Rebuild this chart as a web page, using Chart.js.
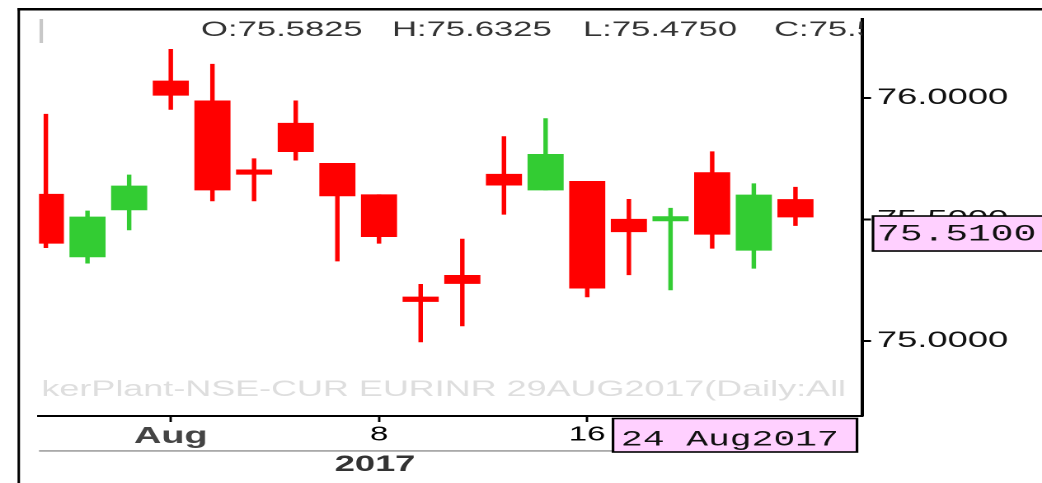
<!DOCTYPE html>
<html>
<head>
<meta charset="utf-8">
<script src="https://cdn.jsdelivr.net/npm/chart.js@4.4.1/dist/chart.umd.min.js"></script>
<style>
  html, body { margin: 0; padding: 0; background: #fff; overflow: hidden; }
  #wrap { width: 632px; height: 483px; transform-origin: 0 0; }
</style>
</head>
<body>
<div id="wrap"><canvas id="chart" width="632" height="483"></canvas></div>
<script>
// EURINR daily candles, 27 Jul - 23 Aug 2017
var dates  = ['27 Jul', '28 Jul', '31 Jul', '1 Aug', '2 Aug', '3 Aug', '4 Aug', '7 Aug', '8 Aug', '9 Aug',
              '10 Aug', '11 Aug', '14 Aug', '16 Aug', '17 Aug', '18 Aug', '21 Aug', '22 Aug', '23 Aug'];
var opens  = [75.604, 75.346, 75.539, 76.070, 75.988, 75.704, 75.896, 75.731, 75.602, 75.181,
              75.270, 75.686, 75.621, 75.657, 75.501, 75.494, 75.693, 75.373, 75.5825];
var highs  = [75.933, 75.535, 75.683, 76.200, 76.139, 75.750, 75.988, 75.731, 75.602, 75.233,
              75.419, 75.841, 75.915, 75.657, 75.583, 75.546, 75.779, 75.647, 75.6325];
var lows   = [75.384, 75.320, 75.457, 75.953, 75.576, 75.576, 75.744, 75.329, 75.402, 74.996,
              75.062, 75.521, 75.621, 75.181, 75.272, 75.210, 75.381, 75.299, 75.4750];
var closes = [75.402, 75.510, 75.638, 76.011, 75.621, 75.686, 75.779, 75.597, 75.429, 75.162,
              75.236, 75.641, 75.768, 75.217, 75.449, 75.512, 75.439, 75.601, 75.5100];

// axis ticks
var xTickIdx    = [3, 8, 13];
var xTickLabels = ['Aug', '8', '16'];
var yearLabel   = '2017';
var yTickVals   = [75.0, 75.5, 76.0];
var yTickLabels = ['75.0000', '75.5000', '76.0000'];

var watermark  = 'kerPlant-NSE-CUR EURINR 29AUG2017(Daily:All';
var cursorDate = '24 Aug2017';

// the picture is stretched sideways, so draw narrow and scale the canvas
var S = 1042 / 632;
document.getElementById('wrap').style.transform = 'scaleX(' + S + ')';

var UP = '#33cc33', DOWN = '#ff0000';
var candleColors = closes.map(function (c, i) { return c >= opens[i] ? UP : DOWN; });

var bodies = [], wicks = [];
for (var i = 0; i < dates.length; i++) {
    bodies.push({x: i, y: [opens[i], closes[i]]});
    wicks.push({x: i, y: [lows[i], highs[i]]});
}

var SANS = '"Liberation Sans", Arial, sans-serif';
var MONO = '"Liberation Mono", "DejaVu Sans Mono", monospace';

const decor = {
    id: 'decor',
    beforeDraw: (chart) => {
        const ctx = chart.ctx;
        ctx.save();
        ctx.fillStyle = '#fff';
        ctx.fillRect(0, 0, chart.width, chart.height);
        ctx.fillStyle = '#000';
        ctx.fillRect(17.5 / S, 8, chart.width, 2.5);       // top frame
        ctx.fillRect(17.5 / S, 8, 2.5 / S, chart.height);  // left frame
        ctx.fillStyle = '#aaa';                            // rule under the date row
        ctx.fillRect(chart.chartArea.left, 450, 612 / S - chart.chartArea.left, 1.8);
        ctx.restore();
    },
    beforeDatasetsDraw: (chart) => {
        const ctx = chart.ctx, a = chart.chartArea;
        ctx.save();
        ctx.beginPath();
        ctx.rect(a.left, a.top, a.right - a.left, a.bottom - a.top);
        ctx.clip();
        // faint watermark
        ctx.font = '22px ' + SANS;
        ctx.fillStyle = '#dedede';
        ctx.textBaseline = 'alphabetic';
        var w = ctx.measureText(watermark).width;
        ctx.translate(a.left + 1.5, 396);
        ctx.scale((846 / S - a.left - 1.5) / w, 1);
        ctx.fillText(watermark, 0, 0);
        ctx.restore();
    },
    afterDraw: (chart) => {
        const ctx = chart.ctx, a = chart.chartArea;
        const xs = chart.scales.x, ys = chart.scales.y;
        var n = dates.length - 1;
        ctx.save();

        // small grey mark top-left
        ctx.fillStyle = '#c8c8c8';
        ctx.fillRect(a.left + 0.3, 19, 3.5 / S, 24);

        // OHLC readout of last bar
        ctx.save();
        ctx.beginPath();
        ctx.rect(a.left, 0, a.right - a.left, a.bottom);
        ctx.clip();
        ctx.font = '21px ' + SANS;
        ctx.fillStyle = '#333';
        ctx.textBaseline = 'alphabetic';
        var parts = ['O:' + opens[n].toFixed(4), 'H:' + highs[n].toFixed(4),
                     'L:' + lows[n].toFixed(4), 'C:' + closes[n].toFixed(4)];
        parts.forEach(function (t, k) { ctx.fillText(t, (201 + k * 191) / S, 36); });
        ctx.restore();

        // last price box on the value axis (runs off the right edge)
        var py = ys.getPixelForValue(closes[n]) - 1;
        ctx.fillStyle = '#ffd0ff';
        ctx.fillRect(873 / S, py, chart.width, 35);
        ctx.strokeStyle = '#000';
        ctx.lineWidth = 1.6;
        ctx.strokeRect(873 / S, py, chart.width, 35);
        ctx.fillStyle = '#111';
        ctx.font = '23px ' + MONO;
        ctx.textBaseline = 'alphabetic';
        ctx.fillText(closes[n].toFixed(4), 877 / S, py + 24.5);

        // cursor date box
        ctx.fillStyle = '#ffd0ff';
        ctx.fillRect(613 / S, 418.5, 244 / S, 33.5);
        ctx.strokeRect(613 / S, 418.5, 244 / S, 33.5);
        ctx.fillStyle = '#111';
        ctx.font = '22px ' + MONO;
        ctx.fillText(cursorDate, 621 / S, 445.5);

        // year under the month row
        ctx.font = 'bold 22px ' + SANS;
        ctx.fillStyle = '#333';
        ctx.textAlign = 'center';
        ctx.textBaseline = 'middle';
        ctx.fillText(yearLabel, xs.getPixelForValue(xTickIdx[1]) - 4 / S, 465);
        ctx.restore();
    }
};

var ctx = document.getElementById('chart').getContext('2d');
var myChart = new Chart(ctx, {
    type: 'bar',
    data: {
        datasets: [{
            label: 'Body',
            data: bodies,
            backgroundColor: candleColors,
            borderWidth: 0,
            barThickness: 35 / S,
            minBarLength: 4,
            grouped: false
        }, {
            label: 'Wick',
            data: wicks,
            backgroundColor: candleColors,
            borderWidth: 0,
            barThickness: 3.4 / S,
            grouped: false
        }]
    },
    options: {
        responsive: false,
        animation: false,
        devicePixelRatio: 2,
        layout: {
            padding: {left: 39 / S, top: 19, right: 0, bottom: 0}
        },
        scales: {
            x: {
                type: 'linear',
                position: 'bottom',
                offset: false,
                min: -0.1645,
                max: 19.598,
                afterBuildTicks: (axis) => { axis.ticks = xTickIdx.map(v => ({value: v})); },
                afterFit: (axis) => { axis.height = 67; },
                grid: {
                    offset: false,
                    drawOnChartArea: false,
                    drawTicks: true,
                    tickLength: 6,
                    tickColor: '#000',
                    tickWidth: 2.4 / S
                },
                border: {display: true, color: '#000', width: 2},
                ticks: {
                    maxRotation: 0,
                    autoSkip: false,
                    padding: 1,
                    color: (c) => c.index === 0 ? '#444' : '#000',
                    font: (c) => c.index === 0
                        ? {family: SANS, size: 23, weight: 'bold'}
                        : {family: SANS, size: 20},
                    callback: (value, index) => xTickLabels[index]
                }
            },
            y: {
                type: 'linear',
                position: 'right',
                min: 74.691,
                max: 76.325,
                afterBuildTicks: (axis) => { axis.ticks = yTickVals.map(v => ({value: v})); },
                afterFit: (axis) => { axis.width = 632 - 862 / S; },
                grid: {
                    drawOnChartArea: false,
                    drawTicks: true,
                    tickLength: 9 / S,
                    tickColor: '#000',
                    tickWidth: 2
                },
                border: {display: true, color: '#000', width: 3.3 / S},
                ticks: {
                    padding: 6 / S,
                    color: '#111',
                    font: {family: SANS, size: 22},
                    callback: (value, index) => yTickLabels[index]
                }
            }
        },
        plugins: {
            legend: {display: false},
            tooltip: {enabled: false}
        }
    },
    plugins: [decor]
});
</script>
</body>
</html>
